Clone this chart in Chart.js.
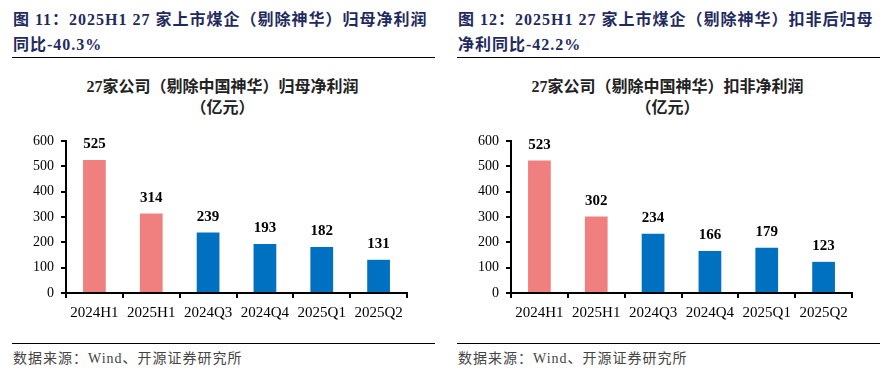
<!DOCTYPE html>
<html>
<head>
<meta charset="utf-8">
<script src="https://cdn.jsdelivr.net/npm/chart.js@4/dist/chart.umd.min.js"></script>
<style>
  body { margin: 0; width: 891px; height: 375px; background: #fff; position: relative; overflow: hidden;
         font-family: "Liberation Serif", "Noto Sans CJK SC", serif; }
  .panel { position: absolute; top: 0; width: 445px; height: 375px; }
  .titulo { position: absolute; left: 13px; top: 7px; width: 422px; font-size: 16px; font-weight: bold;
            color: #1f2a5e; line-height: 25px; letter-spacing: 1px; }
  .regla { position: absolute; left: 12px; width: 423px; height: 0; border-top: 1.5px solid #000; }
  .subtitulo { position: absolute; left: 0; width: 445px; top: 76px; text-align: center; font-size: 16px;
               font-weight: bold; color: #222; line-height: 21px; }
  .grafico { position: absolute; left: 0; top: 120px; width: 445px; height: 215px; }
  .fuente { position: absolute; left: 13px; top: 347px; font-size: 14px; color: #444; letter-spacing: 1px; }
</style>
</head>
<body>
<div class="panel" style="left:0">
  <div class="titulo">图 11：2025H1 27 家上市煤企（剔除神华）归母净利润同比-40.3%</div>
  <div class="regla" style="top:57px"></div>
  <div class="subtitulo">27家公司（剔除中国神华）归母净利润<br>（亿元）</div>
  <div class="grafico"><canvas id="grafico1"></canvas></div>
  <div class="regla" style="top:343px"></div>
  <div class="fuente">数据来源：Wind、开源证券研究所</div>
</div>
<div class="panel" style="left:445px">
  <div class="titulo">图 12：2025H1 27 家上市煤企（剔除神华）扣非后归母净利同比-42.2%</div>
  <div class="regla" style="top:57px"></div>
  <div class="subtitulo">27家公司（剔除中国神华）扣非净利润<br>（亿元）</div>
  <div class="grafico"><canvas id="grafico2"></canvas></div>
  <div class="regla" style="top:343px"></div>
  <div class="fuente">数据来源：Wind、开源证券研究所</div>
</div>
<script>
const periodos = ["2024H1", "2025H1", "2024Q3", "2024Q4", "2025Q1", "2025Q2"];
const beneficioNeto = [525, 314, 239, 193, 182, 131];
const beneficioAjustado = [523, 302, 234, 166, 179, 123];
const colores = ["#f08080", "#f08080", "#0070c0", "#0070c0", "#0070c0", "#0070c0"];
const ticksY = [0, 100, 200, 300, 400, 500, 600];

const fuenteSerif = "'Liberation Serif', 'Noto Sans CJK SC', serif";

// etiquetas de valor encima de cada barra
const etiquetas = {
  id: "etiquetas",
  afterDatasetsDraw(chart) {
    const ctx = chart.ctx;
    const meta = chart.getDatasetMeta(0);
    ctx.save();
    ctx.font = "bold 15px " + fuenteSerif;
    ctx.fillStyle = "#000";
    ctx.textAlign = "center";
    ctx.textBaseline = "bottom";
    meta.data.forEach((bar, i) => {
      const p = bar.getProps(["x", "y"], true);
      ctx.fillText(chart.data.datasets[0].data[i], p.x, p.y - 8);
    });
    ctx.restore();
  }
};

const crearGrafico = (id, valores) => {
  const ctx = document.getElementById(id);
  return new Chart(ctx, {
    type: "bar",
    data: {
      labels: periodos,
      datasets: [{
        data: valores,
        backgroundColor: colores,
        barPercentage: 0.8,
        categoryPercentage: 0.5
      }]
    },
    options: {
      responsive: false,
      animation: false,
      maintainAspectRatio: false,
      layout: { padding: { top: 21, right: 38, left: 0, bottom: 0 } },
      plugins: { legend: { display: false }, tooltip: { enabled: false } },
      scales: {
        x: {
          grid: { offset: true, drawOnChartArea: false, tickLength: 5, color: "#000", lineWidth: 2 },
          border: { color: "#000", width: 2 },
          ticks: { color: "#000", font: { family: fuenteSerif, size: 15 }, padding: 6, maxRotation: 0 },
          afterFit: (scale) => { scale.height = 42; }
        },
        y: {
          min: 0,
          max: 600,
          afterBuildTicks: (scale) => { scale.ticks = ticksY.map(v => ({ value: v })); },
          grid: { drawOnChartArea: false, tickLength: 5, color: "#000", lineWidth: 2 },
          border: { color: "#000", width: 2 },
          ticks: { color: "#000", font: { family: fuenteSerif, size: 14 }, padding: 7 },
          afterFit: (scale) => { scale.width = 66; }
        }
      }
    },
    plugins: [etiquetas]
  });
};

document.querySelectorAll("canvas").forEach(c => { c.width = 445; c.height = 215; });
crearGrafico("grafico1", beneficioNeto);
crearGrafico("grafico2", beneficioAjustado);
</script>
</body>
</html>
